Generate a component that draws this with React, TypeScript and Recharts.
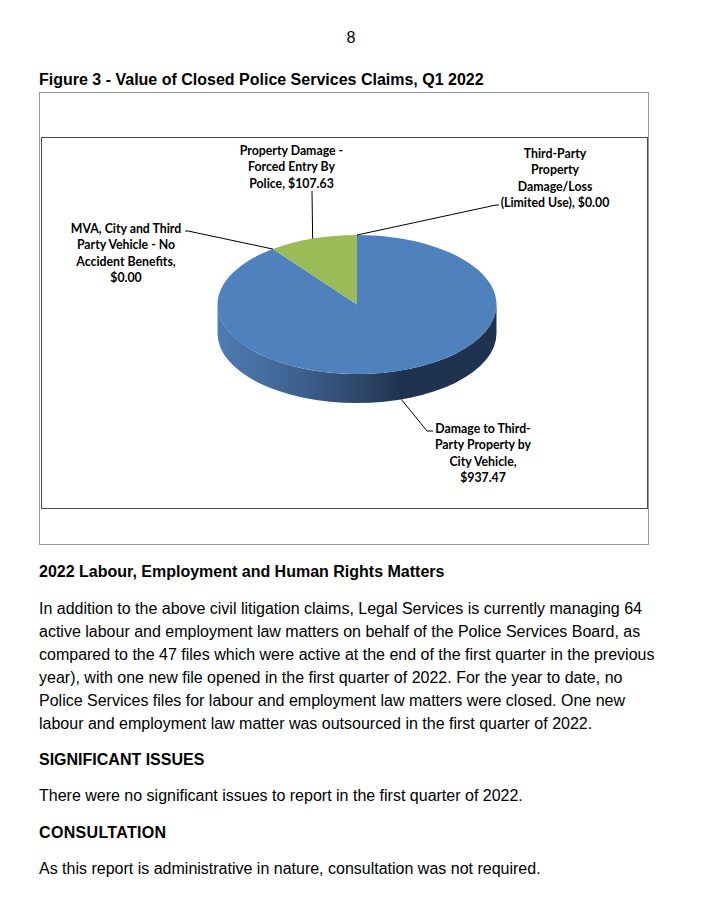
import { PieChart, Pie, Cell } from 'recharts';

const categories = [
  'Damage to Third-Party Property by City Vehicle',
  'MVA, City and Third Party Vehicle - No Accident Benefits',
  'Property Damage - Forced Entry By Police',
  'Third-Party Property Damage/Loss (Limited Use)',
];
const claimValues = [937.47, 0, 107.63, 0];
const sliceColors = ['#4f81bd', '#c0504d', '#9bbb59', '#8064a2'];

// wrapped the way the original chart wraps them
const labelRows = [
  ['Damage to Third-', 'Party Property by', 'City Vehicle,', '$937.47'],
  ['MVA, City and Third', 'Party Vehicle - No', 'Accident Benefits,', '$0.00'],
  ['Property Damage -', 'Forced Entry By', 'Police, $107.63'],
  ['Third-Party', 'Property', 'Damage/Loss', '(Limited Use), $0.00'],
];

const bodyLines = [
  'In addition to the above civil litigation claims, Legal Services is currently managing 64',
  'active labour and employment law matters on behalf of the Police Services Board, as',
  'compared to the 47 files which were active at the end of the first quarter in the previous',
  'year), with one new file opened in the first quarter of 2022. For the year to date, no',
  'Police Services files for labour and employment law matters were closed. One new',
  'labour and employment law matter was outsourced in the first quarter of 2022.',
];

const chartData = categories.map((name, i) => ({ name, value: claimValues[i] }));

// page layout
const CX = 357;
const CY = 304.5;
const RX = 139.5;
const RY = 69.5;
const DEPTH = 29;
const LABEL_FONT = 'Lato, sans-serif';
const labelCenters = [
  { x: 483, y: 433 },
  { x: 126, y: 233 },
  { x: 291.5, y: 155 },
  { x: 555, y: 158 },
];
const leaderEnds = [
  [[427, 431], [433, 431]],
  [[188, 231], [185, 231]],
  [[312, 191], [312, 191]],
  [[496, 205], [499, 205]],
];

const toPoint = (deg: number, dy = 0) => {
  const a = (deg * Math.PI) / 180;
  return { x: CX + RX * Math.cos(a), y: CY - RY * Math.sin(a) + dy };
};

// flattened slice with the side wall under it
const TiltedSlice = (props: any) => {
  const { startAngle, endAngle, fill } = props;
  if (Math.abs(startAngle - endAngle) < 0.01) return null;
  const start = toPoint(startAngle);
  const end = toPoint(endAngle);
  const large = Math.abs(startAngle - endAngle) > 180 ? 1 : 0;
  const wallFrom = Math.min(startAngle, 0);
  const wallTo = Math.max(endAngle, -180);
  const hasWall = wallFrom > wallTo;
  const w1 = toPoint(wallFrom);
  const w2 = toPoint(wallTo);
  const w3 = toPoint(wallTo, DEPTH);
  const w4 = toPoint(wallFrom, DEPTH);
  return (
    <g>
      <defs>
        <linearGradient id="wallShade" x1="0" y1="0" x2="1" y2="0">
          <stop offset="0%" stopColor="#4f7cb3" />
          <stop offset="30%" stopColor="#3d608e" />
          <stop offset="54%" stopColor="#2b4364" />
          <stop offset="66%" stopColor="#1f3350" />
          <stop offset="100%" stopColor="#1f3350" />
        </linearGradient>
      </defs>
      {hasWall && (
        <path
          d={`M${w1.x},${w1.y} A${RX},${RY} 0 0 1 ${w2.x},${w2.y} L${w3.x},${w3.y} A${RX},${RY} 0 0 0 ${w4.x},${w4.y} Z`}
          fill="url(#wallShade)"
        />
      )}
      <path
        d={`M${CX},${CY} L${start.x},${start.y} A${RX},${RY} 0 ${large} 1 ${end.x},${end.y} Z`}
        fill={fill}
      />
    </g>
  );
};

const renderLabel = (props: any) => {
  const { index } = props;
  const c = labelCenters[index];
  return (
    <text
      key={index}
      x={c.x}
      y={c.y}
      textAnchor="middle"
      fontFamily={LABEL_FONT}
      fontWeight={700}
      fontSize={12.3}
      fill="#000"
    >
      {labelRows[index].map((row, i) => (
        <tspan key={i} x={c.x} dy={i === 0 ? 0 : 16.4}>
          {row}
        </tspan>
      ))}
    </text>
  );
};

const renderLeader = (props: any) => {
  const { index, midAngle } = props;
  // the big slice is labelled from the bottom of its wall
  const from = toPoint(midAngle, index === 0 ? DEPTH : 0);
  const [a, b] = leaderEnds[index];
  return (
    <path
      key={index}
      d={`M${from.x},${from.y} L${a[0]},${a[1]} L${b[0]},${b[1]}`}
      fill="none"
      stroke="#000"
      strokeWidth={1}
    />
  );
};

const textLine = (text: string, top: number, bold = false, spacing = 0) => (
  <div
    key={text}
    style={{
      position: 'absolute',
      left: 39,
      top: top - 9,
      height: 20,
      lineHeight: '20px',
      fontFamily: '"Liberation Sans", Arial, sans-serif',
      fontSize: 16,
      fontWeight: bold ? 700 : 400,
      letterSpacing: spacing,
      whiteSpace: 'nowrap',
      color: '#000',
    }}
  >
    {text}
  </div>
);

export default function App() {
  return (
    <div style={{ position: 'absolute', left: 0, top: 0, width: 702, height: 900, background: '#fff', overflow: 'hidden' }}>
      <div
        style={{
          position: 'absolute',
          left: 346.5,
          top: 29,
          fontFamily: '"Liberation Sans", Arial, sans-serif',
          fontSize: 16,
          lineHeight: '18px',
          color: '#000',
        }}
      >
        8
      </div>
      {textLine('Figure 3 - Value of Closed Police Services Claims, Q1 2022', 79, true)}

      <div style={{ position: 'absolute', left: 39, top: 92, width: 608, height: 451, border: '1px solid #999999' }} />
      <div style={{ position: 'absolute', left: 41, top: 137, width: 605, height: 370, border: '1px solid #4a4a4a' }} />

      <div style={{ position: 'absolute', left: 0, top: 0 }}>
        <PieChart width={702} height={560}>
          <Pie
            data={chartData}
            dataKey="value"
            nameKey="name"
            cx={CX}
            cy={CY}
            outerRadius={RX}
            startAngle={90}
            endAngle={-270}
            stroke="none"
            shape={TiltedSlice}
            label={renderLabel}
            labelLine={renderLeader}
            isAnimationActive={false}
          >
            {chartData.map((d, i) => (
              <Cell key={d.name} fill={sliceColors[i]} />
            ))}
          </Pie>
        </PieChart>
      </div>

      {textLine('2022 Labour, Employment and Human Rights Matters', 571, true)}
      {bodyLines.map((line, i) => textLine(line, 608 + i * 23))}
      {textLine('SIGNIFICANT ISSUES', 759, true)}
      {textLine('There were no significant issues to report in the first quarter of 2022.', 795)}
      {textLine('CONSULTATION', 832, true, 0.33)}
      {textLine('As this report is administrative in nature, consultation was not required.', 868)}
    </div>
  );
}
